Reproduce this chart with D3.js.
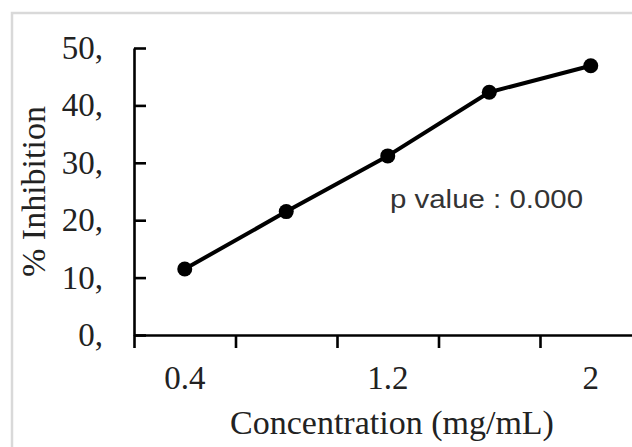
<!DOCTYPE html>
<html>
<head>
<meta charset="utf-8">
<script src="https://cdn.jsdelivr.net/npm/d3@7"></script>
<style>
  html, body { margin: 0; padding: 0; background: #fff; }
  svg { display: block; }
</style>
</head>
<body>
<svg id="chart" width="632" height="447"></svg>
<script>
// ---- data ----
const categories = ["0.4", "0.8", "1.2", "1.6", "2"];
const inhibition = [11.5, 21.5, 31.2, 42.3, 46.9];
const xTickLabels = ["0.4", "1.2", "2"];
const yTicks = [0, 10, 20, 30, 40, 50];
const annotation = "p value : 0.000";
const xTitle = "Concentration (mg/mL)";
const yTitle = "% Inhibition";

// ---- layout ----
const svg = d3.select("#chart");
const plot = { left: 134, right: 641.5, top: 48, bottom: 335 };

// frame (only top and left edges visible in the crop)
svg.append("rect")
  .attr("x", 12).attr("y", 13)
  .attr("width", 700).attr("height", 500)
  .attr("fill", "none").attr("stroke", "#d9d9d9").attr("stroke-width", 2.5);

const x = d3.scaleBand().domain(categories).range([plot.left, plot.right]).padding(0);
const xEdges = d3.scaleLinear().domain([0, categories.length]).range([plot.left, plot.right]);
const y = d3.scaleLinear().domain([0, 50]).range([plot.bottom, plot.top]);

const serif = "'Liberation Serif', 'Times New Roman', serif";

// y axis
const yAxis = svg.append("g")
  .attr("transform", `translate(${plot.left},0)`)
  .call(d3.axisLeft(y).tickValues(yTicks).tickFormat(d => d + ",")
    .tickSizeInner(-12).tickSizeOuter(0).tickPadding(31));
yAxis.select(".domain").attr("stroke", "#000").attr("stroke-width", 2.6);
yAxis.selectAll(".tick line").attr("stroke", "#000").attr("stroke-width", 2.6);
yAxis.selectAll(".tick text")
  .attr("font-family", serif).attr("font-size", 33).attr("fill", "#222");

// x axis (ticks at category boundaries)
const xAxis = svg.append("g")
  .attr("transform", `translate(0,${plot.bottom})`)
  .call(d3.axisBottom(xEdges).tickValues(d3.range(0, categories.length + 1))
    .tickFormat("").tickSizeInner(13).tickSizeOuter(0));
xAxis.select(".domain").attr("stroke", "#000").attr("stroke-width", 2.6);
xAxis.selectAll(".tick line").attr("stroke", "#000").attr("stroke-width", 2.6);

// x labels at category centres
svg.append("g").selectAll("text")
  .data(xTickLabels)
  .join("text")
  .attr("x", d => x(d) + x.bandwidth() / 2)
  .attr("y", 389)
  .attr("text-anchor", "middle")
  .attr("font-family", serif).attr("font-size", 33).attr("fill", "#222")
  .text(d => d);

// axis titles
svg.append("text")
  .attr("x", 392).attr("y", 434)
  .attr("text-anchor", "middle")
  .attr("font-family", serif).attr("font-size", 34).attr("fill", "#222")
  .text(xTitle);

svg.append("text")
  .attr("transform", `translate(45,${(plot.top + plot.bottom) / 2}) rotate(-90)`)
  .attr("text-anchor", "middle")
  .attr("font-family", serif).attr("font-size", 34).attr("fill", "#222")
  .text(yTitle);

// line + markers
const pts = categories.map((c, i) => ({ c, v: inhibition[i] }));
svg.append("path")
  .datum(pts)
  .attr("fill", "none").attr("stroke", "#000").attr("stroke-width", 4)
  .attr("stroke-linejoin", "round")
  .attr("d", d3.line().x(d => x(d.c) + x.bandwidth() / 2).y(d => y(d.v)));

svg.append("g").selectAll("circle")
  .data(pts)
  .join("circle")
  .attr("cx", d => x(d.c) + x.bandwidth() / 2)
  .attr("cy", d => y(d.v))
  .attr("r", 7.5)
  .attr("fill", "#000");

// annotation
svg.append("text")
  .attr("x", 390).attr("y", 208)
  .attr("font-family", "'Liberation Sans', Arial, sans-serif")
  .attr("font-size", 25).attr("fill", "#333")
  .attr("textLength", 193).attr("lengthAdjust", "spacingAndGlyphs")
  .text(annotation);
</script>
</body>
</html>
